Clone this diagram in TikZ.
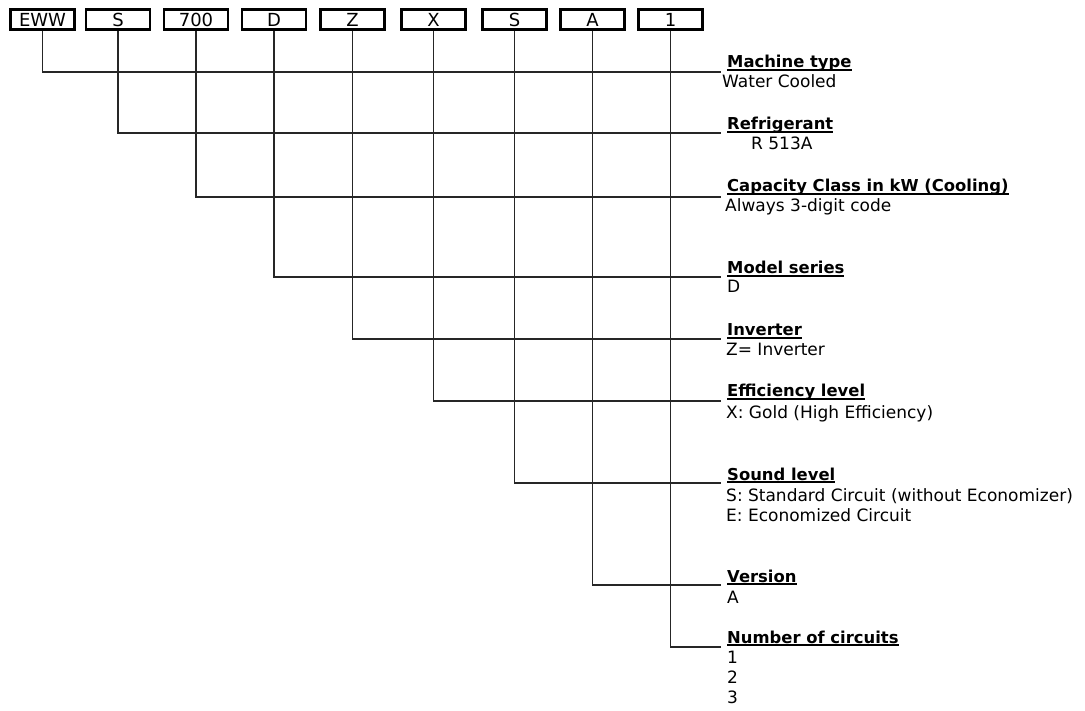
\documentclass[tikz,border=0pt]{standalone}
\usepackage{fontspec}
\setmainfont{DejaVu Sans}
\usepackage{tikz}
\usetikzlibrary{positioning}
\newcommand{\ulhead}[1]{\setbox0\hbox{\fontsize{16.4}{20}\selectfont\bfseries #1}\rlap{\rule[-2.6pt]{\wd0}{1.2pt}}\box0}
\tikzstyle{codebox} = [draw, line width=2.6pt, minimum width=64pt, minimum height=20pt, inner sep=0pt, font=\fontsize{18}{20}\selectfont]
\tikzstyle{link} = [line width=1.2pt, black!85]
\tikzstyle{head} = [anchor=base west, inner sep=0pt]
\tikzstyle{desc} = [anchor=base west, inner sep=0pt, align=left]

\begin{document}
\begin{tikzpicture}[x=1pt, y=-1pt, font=\fontsize{17}{20}\selectfont]
    \useasboundingbox (0,0) rectangle (1085,711);

    % code boxes
    \foreach \n/\t/\x in {cEWW/EWW/42.5, cS/S/118, cCap/700/196, cD/D/274, cZ/Z/352.5, cX/X/433.5, cSnd/S/514.5, cA/A/592.5, cOne/1/670.5}
        \node[codebox] (\n) at (\x,19.5) {\t};

    % legend (multi-line texts sit on their last line)
    \node[head] (hMachine) at (727,68) {\ulhead{Machine type}};
    \node[desc] (dMachine) at (722,88) {Water Cooled};
    \node[head] (hRefr) at (727,130) {\ulhead{Refrigerant}};
    \node[desc] (dRefr) at (751,150) {R 513A};
    \node[head] (hCap) at (727,192) {\ulhead{Capacity Class in kW (Cooling)}};
    \node[desc] (dCap) at (725,212) {Always 3-digit code};
    \node[head] (hModel) at (727,274) {\ulhead{Model series}};
    \node[desc] (dModel) at (727,293) {D};
    \node[head] (hInv) at (727,336) {\ulhead{Inverter}};
    \node[desc] (dInv) at (726,356) {Z= Inverter};
    \node[head] (hEff) at (727,397) {\ulhead{Efficiency level}};
    \node[desc] (dEff) at (726,418) {X: Gold (High Efficiency)};
    \node[head] (hSnd) at (727,480) {\ulhead{Sound level}};
    \node[desc] (dSnd) at (726,521) {S: Standard Circuit (without Economizer)\\E: Economized Circuit};
    \node[head] (hVer) at (727,582) {\ulhead{Version}};
    \node[desc] (dVer) at (727,603) {A};
    \node[head] (hNum) at (727,643) {\ulhead{Number of circuits}};
    \node[desc] (dNum) at (727,703) {1\\2\\3};

    % connectors
    \foreach \n/\y [count=\i] in {cEWW/72, cS/133, cCap/197, cD/277, cZ/339, cX/401, cSnd/483, cA/585, cOne/647} {
        \coordinate (e\i) at (721,\y);
        \draw[link] (\n.south) |- (e\i);
    }
\end{tikzpicture}
\end{document}
